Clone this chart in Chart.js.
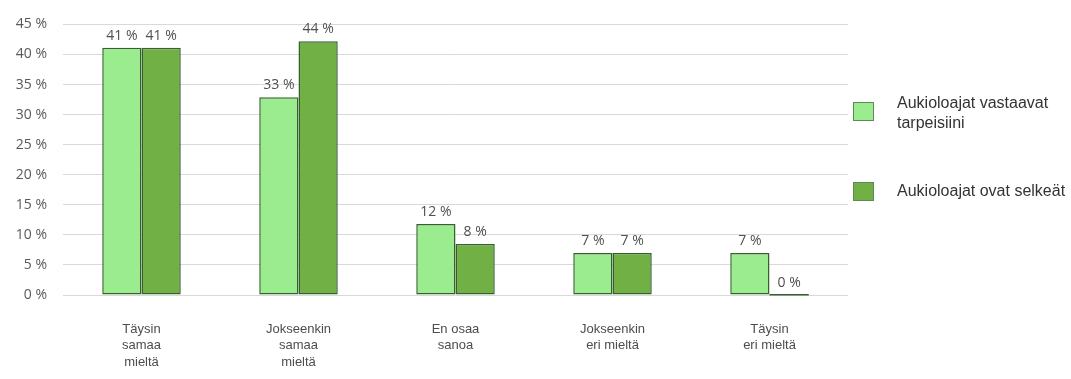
<!DOCTYPE html>
<html>
<head>
<meta charset="utf-8">
<script src="https://cdn.jsdelivr.net/npm/chart.js@4"></script>
<style>
  body { margin: 0; background: #fff; }
  #wrap { position: relative; width: 1071px; height: 379px; }
  .legend-item { position: absolute; left: 853px; font: 16px 'Liberation Sans', Arial, sans-serif; color: #333; }
  .legend-box { position: absolute; left: 0; width: 21px; height: 19px; box-sizing: border-box; border: 1px solid #5f8757; }
  .legend-text { position: absolute; left: 44px; top: -1px; white-space: nowrap; line-height: 20px; }
</style>
</head>
<body>
<div id="wrap">
  <canvas id="chart" width="1071" height="379"></canvas>
  <div id="legend"></div>
</div>
<script>
// --- data ---
const categories = [
    ['Täysin', 'samaa', 'mieltä'],
    ['Jokseenkin', 'samaa', 'mieltä'],
    ['En osaa', 'sanoa'],
    ['Jokseenkin', 'eri mieltä'],
    ['Täysin', 'eri mieltä']
];
const seriesNames = [['Aukioloajat vastaavat', 'tarpeisiini'], ['Aukioloajat ovat selkeät']];
const seriesA = [41.1, 32.9, 11.8, 7.0, 7.0];
const seriesB = [41.1, 42.2, 8.5, 7.0, 0];
const labelsA = ['41 %', '33 %', '12 %', '7 %', '7 %'];
const labelsB = ['41 %', '44 %', '8 %', '7 %', '0 %'];
const yTicks = [0, 5, 10, 15, 20, 25, 30, 35, 40, 45];

const colors = ['#9beb8f', '#70b044'];
const borderColor = '#37602f';

// --- value labels above bars ---
const valueLabels = {
    id: 'valueLabels',
    afterDatasetsDraw(chart) {
        const ctx = chart.ctx;
        ctx.save();
        ctx.font = "14px 'Open Sans', sans-serif";
        ctx.fillStyle = '#505050';
        ctx.textAlign = 'center';
        ctx.textBaseline = 'bottom';
        chart.data.datasets.forEach((ds, i) => {
            chart.getDatasetMeta(i).data.forEach((bar, j) => {
                // flat line for empty bars
                if (ds.data[j] === 0) {
                    ctx.fillStyle = borderColor;
                    ctx.fillRect(bar.x - bar.width / 2, bar.y - 1, bar.width, 1.5);
                    ctx.fillStyle = '#505050';
                }
                ctx.fillText(ds.valueText[j], bar.x, bar.y - 5);
            });
        });
        ctx.restore();
    }
};

new Chart(document.getElementById('chart'), {
    type: 'bar',
    data: {
        labels: categories,
        datasets: [
            { label: seriesNames[0].join(' '), data: seriesA, valueText: labelsA, backgroundColor: colors[0] },
            { label: seriesNames[1].join(' '), data: seriesB, valueText: labelsB, backgroundColor: colors[1] }
        ].map(d => Object.assign(d, {
            borderColor: borderColor, borderWidth: 1.5, borderSkipped: false,
            barPercentage: 1.0, categoryPercentage: 0.5
        }))
    },
    options: {
        responsive: false,
        animation: false,
        layout: { padding: { top: 21, right: 223, left: 0, bottom: 0 } },
        plugins: { legend: { display: false }, tooltip: { enabled: false } },
        scales: {
            x: {
                grid: { display: false, drawTicks: false },
                border: { display: false },
                ticks: {
                    padding: 26,
                    color: '#4d4d4d',
                    font: { family: "'Liberation Sans', Arial, sans-serif", size: 13, lineHeight: 1.27 },
                    maxRotation: 0
                },
                afterFit: s => { s.height = 84; }
            },
            y: {
                min: 0, max: 45,
                afterBuildTicks: s => { s.ticks = yTicks.map(v => ({ value: v })); },
                grid: { color: '#d9d9d9', drawTicks: false },
                border: { display: false },
                ticks: {
                    padding: 16,
                    color: '#595959',
                    font: { family: "'Open Sans', sans-serif", size: 14 },
                    callback: v => v + ' %'
                },
                afterFit: s => { s.width = 63; }
            }
        }
    },
    plugins: [valueLabels]
});

// --- legend ---
const legend = document.getElementById('legend');
const legendTops = [94, 182];
seriesNames.forEach((name, i) => {
    const item = document.createElement('div');
    item.className = 'legend-item';
    item.style.top = legendTops[i] + 'px';
    const boxTop = name.length > 1 ? 8 : 0;
    item.innerHTML = `<div class="legend-box" style="background:${colors[i]};top:${boxTop}px"></div>` +
        `<div class="legend-text">${name.join('<br>')}</div>`;
    legend.appendChild(item);
});
</script>
</body>
</html>
